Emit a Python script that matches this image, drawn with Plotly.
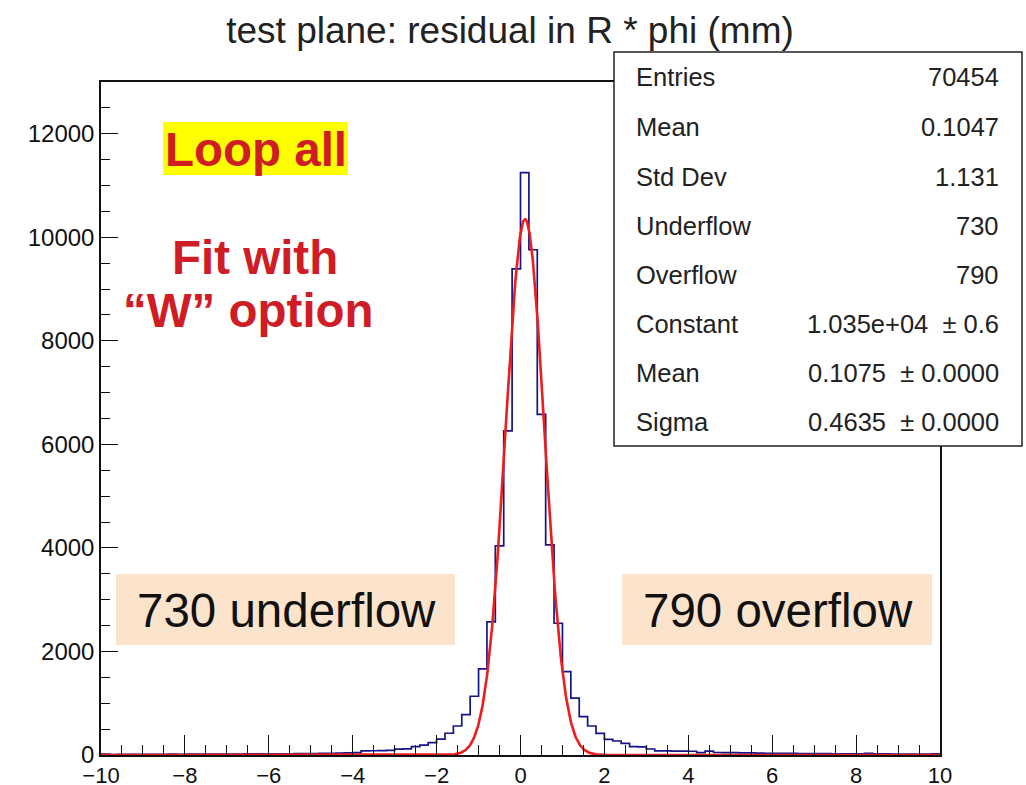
import numpy as np
import plotly.graph_objects as go

# ---------------- data ----------------
X_MIN, X_MAX, N_BINS = -10.0, 10.0, 100
COUNTS = [
    # -10.0 ... -4.0
    18, 10, 12, 11, 13, 12, 14, 13, 15, 14, 16, 15, 17, 16, 18, 19, 18, 20, 21, 22,
    21, 23, 24, 26, 27, 29, 31, 34, 37, 40, 44,
    # -3.8 ... 5.4
    78, 82, 85, 90, 112, 120, 160, 192, 238, 305, 420, 560, 780, 1135, 1665, 2570,
    4040, 6260, 9390, 11250, 9760, 6580, 4060, 2545, 1610, 1100, 741, 560, 419, 303,
    270, 225, 161, 158, 116, 80, 78, 76, 74, 72, 45, 75, 48, 46, 44, 42, 41,
    # 5.6 ... 9.8
    35, 33, 32, 30, 30, 28, 27, 26, 25, 24, 23, 22, 22, 30, 20, 20, 19, 18, 18, 17,
    16, 20,
]
FIT_CONSTANT = 1.035e04
FIT_MEAN = 0.1075
FIT_SIGMA = 0.4635

STATS_LABELS = ["Entries", "Mean", "Std Dev", "Underflow", "Overflow",
                "Constant", "Mean", "Sigma"]
STATS_VALUES = ["70454", "0.1047", "1.131", "730", "790",
                "1.035e+04  \u00b1 0.6", "0.1075  \u00b1 0.0000", "0.4635  \u00b1 0.0000"]

TITLE = "test plane: residual in R * phi (mm)"
Y_MAX = 13000

# ---------------- figure ----------------
W, H = 1026, 785
L, R, T, B = 101, 940, 82, 755
FONT = "Liberation Sans, Arial, Helvetica, sans-serif"

def px(xp):
    return (xp - L) / (R - L)

def py(yp):
    return (B - yp) / (B - T)

edges = np.linspace(X_MIN, X_MAX, N_BINS + 1)
hx = list(edges)
hy = list(COUNTS) + [COUNTS[-1]]

fx = np.linspace(X_MIN, X_MAX, 2001)
fy = FIT_CONSTANT * np.exp(-0.5 * ((fx - FIT_MEAN) / FIT_SIGMA) ** 2)

fig = go.Figure()
fig.add_trace(go.Scatter(x=hx, y=hy, mode="lines", line=dict(shape="hv", color="#14148a", width=1.7),
                         hoverinfo="skip", showlegend=False))
fig.add_trace(go.Scatter(x=fx, y=fy, mode="lines", line=dict(color="#ee1c1c", width=2.6),
                         hoverinfo="skip", showlegend=False))

shapes = []
annotations = []

# stats box
shapes.append(dict(type="rect", xref="paper", yref="paper",
                   x0=px(614), x1=px(1022), y0=py(446), y1=py(52),
                   line=dict(color="#222", width=1.5), fillcolor="white", layer="above"))
row_y = [77, 127, 177, 226, 275, 324, 373, 422]
for lab, val, yy in zip(STATS_LABELS, STATS_VALUES, row_y):
    annotations.append(dict(xref="paper", yref="paper", x=px(634), y=py(yy), text=lab,
                            showarrow=False, xanchor="left", yanchor="middle",
                            font=dict(family=FONT, size=25.5, color="#222")))
    annotations.append(dict(xref="paper", yref="paper", x=px(1001), y=py(yy), text=val,
                            showarrow=False, xanchor="right", yanchor="middle",
                            font=dict(family=FONT, size=25.5, color="#222")))

# highlight boxes
shapes.append(dict(type="rect", xref="paper", yref="paper", x0=px(163), x1=px(348),
                   y0=py(175), y1=py(122), line=dict(width=0), fillcolor="#ffff00", layer="above"))
shapes.append(dict(type="rect", xref="paper", yref="paper", x0=px(116), x1=px(455),
                   y0=py(645), y1=py(574), line=dict(width=0), fillcolor="#fce4cc", layer="above"))
shapes.append(dict(type="rect", xref="paper", yref="paper", x0=px(622), x1=px(932),
                   y0=py(645), y1=py(574), line=dict(width=0), fillcolor="#fce4cc", layer="above"))

RED = "#d01c24"
BIG = 47.5
annotations.append(dict(xref="paper", yref="paper", x=px(256), y=py(149), text="<b>Loop all</b>",
                        showarrow=False, xanchor="center", yanchor="middle",
                        font=dict(family=FONT, size=BIG, color=RED)))
annotations.append(dict(xref="paper", yref="paper", x=px(255), y=py(257), text="<b>Fit with</b>",
                        showarrow=False, xanchor="center", yanchor="middle",
                        font=dict(family=FONT, size=BIG, color=RED)))
annotations.append(dict(xref="paper", yref="paper", x=px(248), y=py(310), text="<b>\u201cW\u201d option</b>",
                        showarrow=False, xanchor="center", yanchor="middle",
                        font=dict(family=FONT, size=BIG, color=RED)))
annotations.append(dict(xref="paper", yref="paper", x=px(286), y=py(610), text="730 underflow",
                        showarrow=False, xanchor="center", yanchor="middle",
                        font=dict(family=FONT, size=BIG, color="#111")))
annotations.append(dict(xref="paper", yref="paper", x=px(778), y=py(610), text="790 overflow",
                        showarrow=False, xanchor="center", yanchor="middle",
                        font=dict(family=FONT, size=BIG, color="#111")))

fig.update_layout(
    width=W, height=H,
    margin=dict(l=L, r=W - R, t=T, b=H - B, pad=0, autoexpand=False),
    paper_bgcolor="white", plot_bgcolor="white",
    title=dict(text=TITLE, x=510 / W, xref="container", xanchor="center",
               y=1 - 30 / H, yref="container", yanchor="middle",
               font=dict(family=FONT, size=37, color="#222")),
    shapes=shapes, annotations=annotations,
    font=dict(family=FONT, color="#111"),
)
fig.update_xaxes(range=[X_MIN, X_MAX], tickmode="linear", tick0=-10, dtick=2,
                 ticks="inside", ticklen=20, tickwidth=1.3, tickcolor="#111",
                 minor=dict(ticks="inside", dtick=0.5, ticklen=10, tickwidth=1.3, tickcolor="#111"),
                 showline=True, linecolor="#111", linewidth=1.5, mirror=True,
                 showgrid=False, zeroline=False, automargin=False,
                 tickfont=dict(family=FONT, size=22, color="#111"))
fig.update_yaxes(range=[0, Y_MAX], tickmode="linear", tick0=0, dtick=2000, tickformat="d",
                 ticks="inside", ticklen=17, tickwidth=1.3, tickcolor="#111",
                 minor=dict(ticks="inside", dtick=500, ticklen=9, tickwidth=1.3, tickcolor="#111"),
                 showline=True, linecolor="#111", linewidth=1.5, mirror=True,
                 showgrid=False, zeroline=False, automargin=False,
                 tickfont=dict(family=FONT, size=24, color="#111"))

fig.write_html("out.html")
